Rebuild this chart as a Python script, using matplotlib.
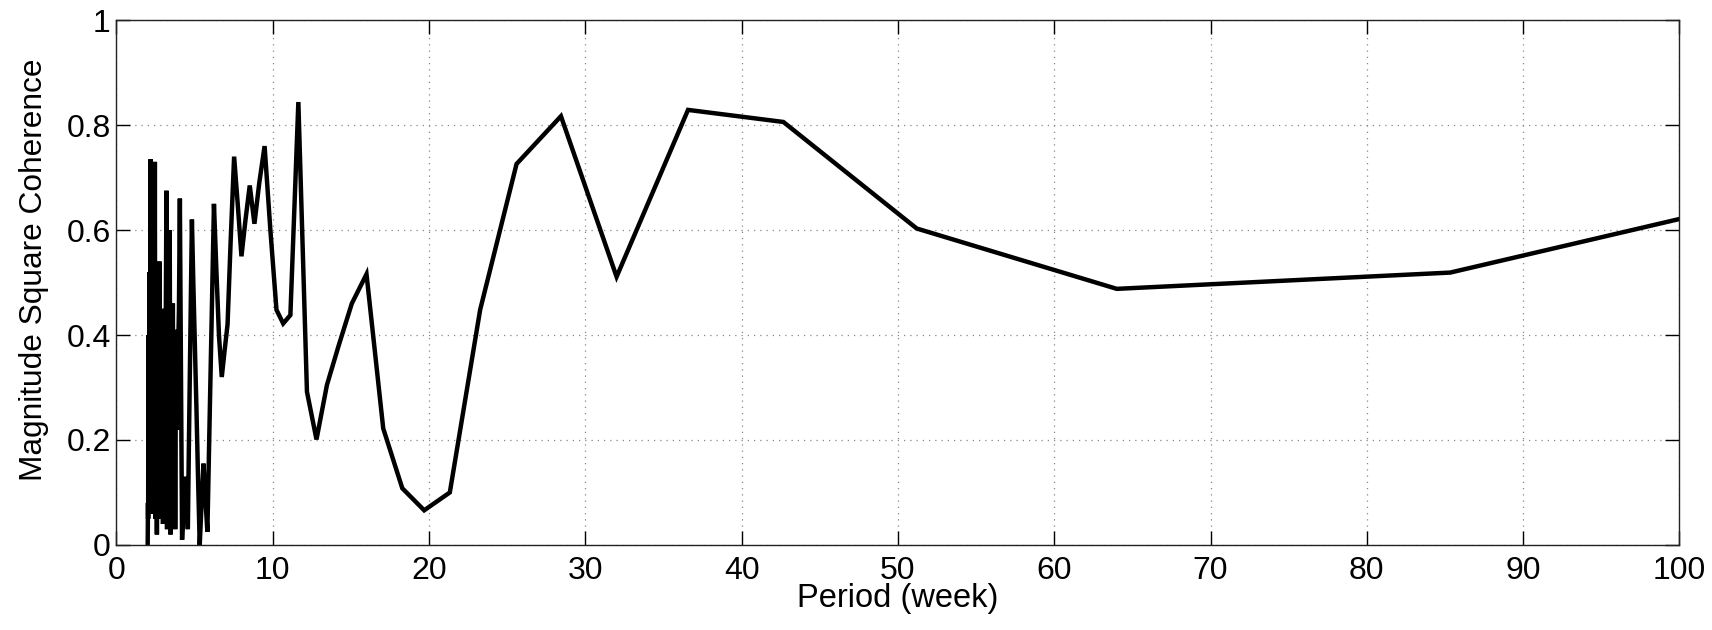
#!/usr/bin/env python3
"""Magnitude squared coherence against period."""
import numpy as np
import matplotlib
matplotlib.use("Agg")
import matplotlib.pyplot as plt

plt.rcParams.update({
    "font.family": ["Liberation Sans", "DejaVu Sans"],
    "font.size": 23,
    "axes.linewidth": 1.0,
})

# period (weeks) of each spectral bin
period = [
    2.00, 2.02, 2.03, 2.05, 2.06, 2.08, 2.10, 2.12, 2.13, 2.15, 2.17, 2.19,
    2.21, 2.23, 2.25, 2.27, 2.29, 2.31, 2.33, 2.35, 2.37, 2.39, 2.42, 2.44,
    2.46, 2.49, 2.51, 2.53, 2.56, 2.59, 2.61, 2.64, 2.67, 2.69, 2.72, 2.75,
    2.78, 2.81, 2.84, 2.88, 2.91, 2.94, 2.98, 3.01, 3.05, 3.08, 3.12, 3.16,
    3.20, 3.24, 3.28, 3.32, 3.37, 3.41, 3.46, 3.51, 3.56, 3.61, 3.66, 3.71,
    3.76, 3.82, 3.88, 3.94, 4.00, 4.06, 4.13, 4.20, 4.27, 4.34, 4.41, 4.49,
    4.57, 4.65, 4.74, 4.83, 4.92, 5.02, 5.12, 5.22, 5.33, 5.45, 5.57, 5.69,
    5.82, 5.95, 6.10, 6.24, 6.40, 6.56, 6.74, 6.92, 7.11, 7.31, 7.53, 7.76,
    8.00, 8.26, 8.53, 8.83, 9.14, 9.48, 9.85, 10.24, 10.67, 11.13, 11.64,
    12.19, 12.80, 13.47, 14.22, 15.06, 16.00, 17.07, 18.29, 19.69, 21.33,
    23.27, 25.60, 28.44, 32.00, 36.57, 42.67, 51.20, 64.00, 85.33, 128.00,
]

coherence = [
    0.00, 0.08, 0.05, 0.40, 0.12, 0.30, 0.07, 0.52, 0.18, 0.45, 0.10, 0.735,
    0.06, 0.38, 0.14, 0.55, 0.08, 0.33, 0.06, 0.47, 0.20, 0.42, 0.09, 0.35,
    0.73, 0.05, 0.42, 0.12, 0.30, 0.02, 0.48, 0.15, 0.36, 0.06, 0.28, 0.54,
    0.09, 0.43, 0.05, 0.32, 0.10, 0.45, 0.04, 0.38, 0.08, 0.26, 0.05, 0.44,
    0.675, 0.03, 0.35, 0.10, 0.45, 0.60, 0.02, 0.30, 0.06, 0.46, 0.12, 0.37,
    0.03, 0.41, 0.22, 0.35, 0.45, 0.66, 0.33, 0.01, 0.06, 0.10, 0.13, 0.08,
    0.03, 0.22, 0.42, 0.62, 0.50, 0.38, 0.26, 0.13, 0.00, 0.08, 0.155, 0.09,
    0.025, 0.22, 0.44, 0.65, 0.52, 0.40, 0.32, 0.37, 0.42, 0.58, 0.74, 0.65,
    0.55, 0.62, 0.685, 0.612, 0.69, 0.76, 0.60, 0.448, 0.422, 0.438, 0.844,
    0.292, 0.201, 0.305, 0.38, 0.46, 0.516, 0.222, 0.108, 0.066, 0.10,
    0.448, 0.726, 0.817, 0.511, 0.829, 0.806, 0.603, 0.488, 0.519, 0.816,
]

fig = plt.figure(figsize=(17.12, 6.30), dpi=100)
ax = fig.add_axes([0.068, 0.135, 0.913, 0.833])

ax.plot(period, coherence, color="black", lw=3.2, solid_joinstyle="miter")

ax.set_xlim(0, 100)
ax.set_ylim(0, 1)
ax.set_xticks(np.arange(0, 101, 10))
ax.set_yticks([0, 0.2, 0.4, 0.6, 0.8, 1])
ax.set_yticklabels(["0", "0.2", "0.4", "0.6", "0.8", "1"])
ax.grid(True, color="#888888", linestyle=(0, (1, 4)), linewidth=0.9)
ax.tick_params(direction="in", length=10, width=1.0, top=True, right=True)
ax.tick_params(axis="x", pad=8)
ax.tick_params(axis="y", pad=4)
for s in ax.spines.values():
    s.set_color("#222222")

ax.set_xlabel("Period (week)", fontsize=23.5, labelpad=-2)
ax.set_ylabel("Magnitude Square Coherence", fontsize=22.8)
ax.yaxis.set_label_coords(-0.043, 0.524)

fig.savefig("out.png", dpi=100)
